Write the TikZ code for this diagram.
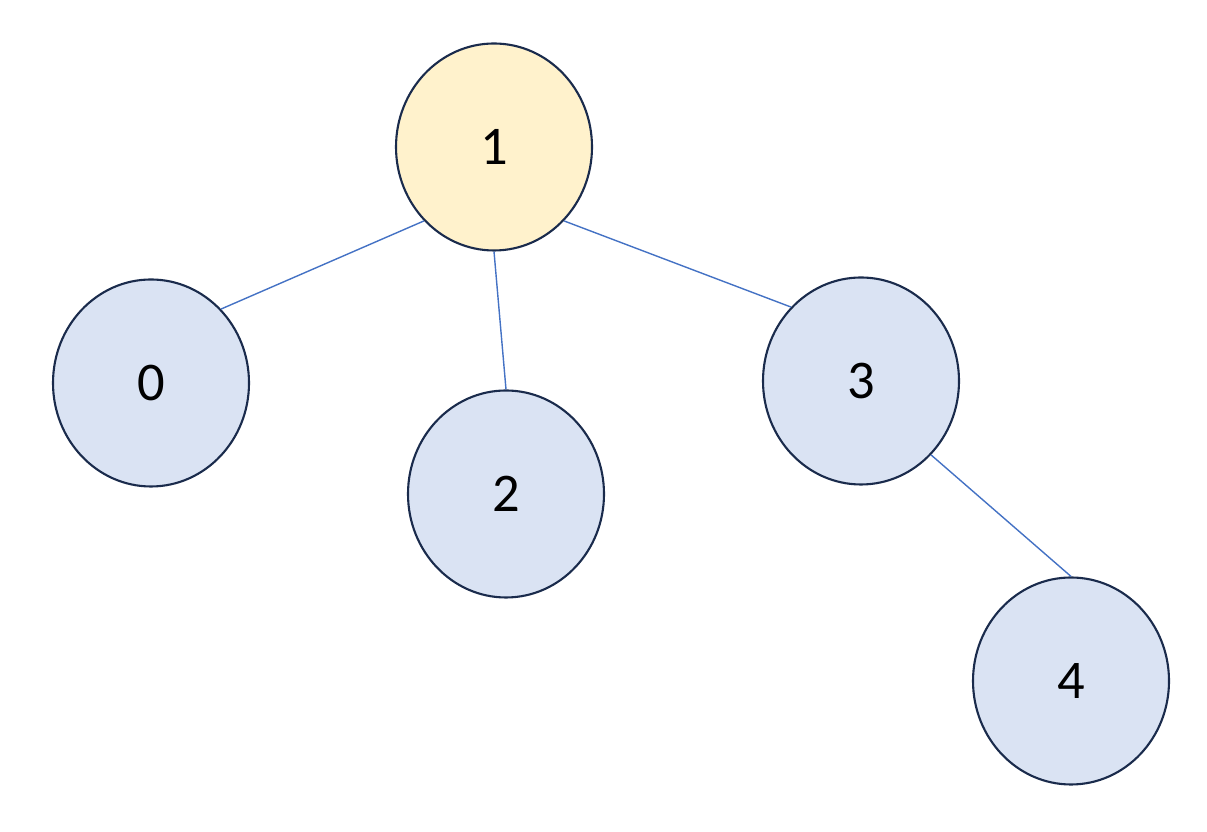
\documentclass[tikz,border=0pt]{standalone}
\usepackage{fontspec}
\setmainfont{Carlito}
\usepackage{tikz}
\usetikzlibrary{shapes.geometric}
\definecolor{rim}{HTML}{1A2B4C}
\definecolor{leaf}{HTML}{DAE3F3}
\definecolor{root}{HTML}{FFF2CC}
\definecolor{link}{HTML}{4472C4}
\tikzset{
  tn/.style={ellipse, draw=rim, fill=leaf, line width=1.2pt, minimum width=3.92cm,
             minimum height=4.14cm, inner sep=0pt, font=\fontsize{31}{36}\selectfont},
  rn/.style={tn, fill=root},                                % root node
  te/.style={draw=link, line width=0.8pt},                  % tree edge
}
\begin{document}
\begin{tikzpicture}
  \useasboundingbox (0,0) rectangle (24.14,16.64);
  \node[rn] (n1) at (9.88,13.70)  {1};
  \node[tn] (n0) at (3.02,8.98)   {0};
  \node[tn] (n2) at (10.12,6.76)  {2};
  \node[tn] (n3) at (17.22,9.02)  {3};
  \node[tn] (n4) at (21.42,3.02)  {4};
  \foreach \u/\v in {n1.south west/n0.north east,n1.south/n2.north,
                     n1.south east/n3.north west,n3.south east/n4.north}
    \draw[te] (\u)--(\v);
\end{tikzpicture}
\end{document}
